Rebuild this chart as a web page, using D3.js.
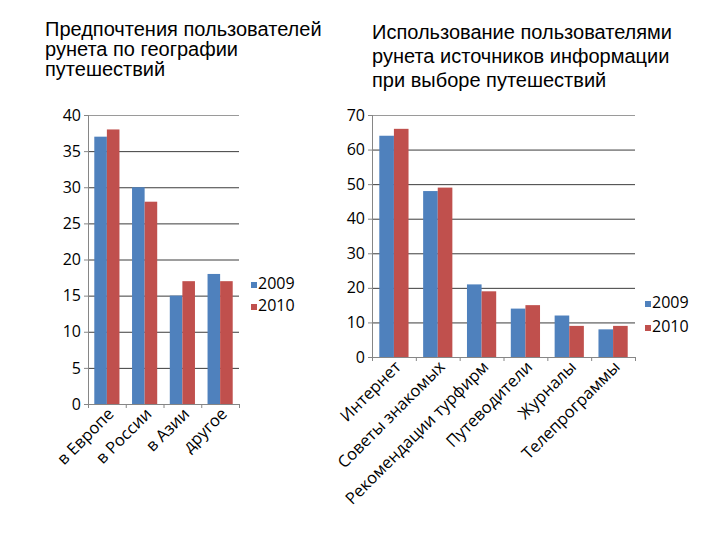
<!DOCTYPE html>
<html>
<head>
<meta charset="utf-8">
<script src="https://cdn.jsdelivr.net/npm/d3@7"></script>
<style>
  body { margin: 0; background: #fff; }
  svg { display: block; }
</style>
</head>
<body>
<svg width="720" height="540"></svg>
<script>
// --- data ---
var seriesNames = ["2009", "2010"];

var geoTitle = ["Предпочтения пользователей", "рунета по географии", "путешествий"];
var geoCategories = ["в Европе", "в России", "в Азии", "другое"];
var geo2009 = [37, 30, 15, 18];
var geo2010 = [38, 28, 17, 17];
var geoTicks = [0, 5, 10, 15, 20, 25, 30, 35, 40];

var srcTitle = ["Использование пользователями", "рунета источников информации", "при выборе путешествий"];
var srcCategories = ["Интернет", "Советы знакомых", "Рекомендации турфирм", "Путеводители", "Журналы", "Телепрограммы"];
var src2009 = [64, 48, 21, 14, 12, 8];
var src2010 = [66, 49, 19, 15, 9, 9];
var srcTicks = [0, 10, 20, 30, 40, 50, 60, 70];

var colors = ["#4f81bd", "#c0504d"];
var labelFont = "'Open Sans', sans-serif";

var svg = d3.select("svg");

function drawTitle(lines, x, y, lineGap)
{
    var t = svg.append("text")
        .attr("x", x)
        .attr("y", y)
        .style("font-family", "'Liberation Sans', Arial, sans-serif")
        .style("font-size", "20px")
        .style("fill", "#000");
    lines.forEach(function (l, i) {
        t.append("tspan").attr("x", x).attr("dy", i == 0 ? 0 : lineGap).text(l);
    });
}

function drawChart(opt)
{
    var width = opt.right - opt.left;
    var height = opt.bottom - opt.top;

    var chart = svg.append("g")
        .attr("transform", `translate(${opt.left}, ${opt.top})`);

    var xScale = d3.scaleBand()
        .domain(opt.categories)
        .range([0, width])
        .padding(0);
    // two bars per category, gap of one bar width
    var sScale = d3.scaleBand()
        .domain(seriesNames)
        .range([0, xScale.bandwidth()])
        .paddingInner(0)
        .paddingOuter(0.5);
    var yScale = d3.scaleLinear()
        .domain([0, d3.max(opt.ticks)])
        .range([height, 0]);

    // gridlines
    chart.append("g")
        .selectAll("line")
        .data(opt.ticks.filter(function (t) { return t > 0; }))
        .enter()
        .append("line")
        .attr("x1", 0)
        .attr("x2", width)
        .attr("y1", (d) => yScale(d) + 0.5)
        .attr("y2", (d) => yScale(d) + 0.5)
        .style("stroke", (d) => d == d3.max(opt.ticks) ? "#9a9a9a" : "#3c3c3c")
        .style("stroke-width", 1);

    // bars
    var rows = opt.categories.map(function (c, i) {
        return { cat: c, values: [opt.s1[i], opt.s2[i]] };
    });
    var groups = chart.selectAll(".grp")
        .data(rows)
        .enter()
        .append("g")
        .attr("transform", (d) => `translate(${xScale(d.cat)}, 0)`);
    groups.selectAll("rect")
        .data(function (d) { return d.values.map(function (v, j) { return { name: seriesNames[j], v: v, j: j }; }); })
        .enter()
        .append("rect")
        .attr("x", (d) => sScale(d.name))
        .attr("y", (d) => yScale(d.v))
        .attr("width", sScale.bandwidth())
        .attr("height", (d) => height - yScale(d.v))
        .style("fill", (d) => colors[d.j]);

    // y axis
    var y_axis = d3.axisLeft(yScale)
        .tickValues(opt.ticks)
        .tickSize(4)
        .tickPadding(3)
        .tickFormat(d3.format("d"));
    var ya = chart.append("g").call(y_axis);
    ya.select(".domain").attr("d", `M0.5,0V${height}`).style("stroke", "#868686");
    ya.selectAll(".tick line").style("stroke", "#868686");
    ya.selectAll("text")
        .style("font-family", labelFont)
        .style("font-size", "16px")
        .style("fill", "#000");

    // x axis
    var x_axis = d3.axisBottom(xScale).tickSize(0).tickFormat("");
    var xa = chart.append("g")
        .attr("transform", `translate(0, ${height})`)
        .call(x_axis);
    xa.select(".domain").style("stroke", "#868686");
    // boundary ticks
    var edges = opt.categories.map((c) => xScale(c)).concat([width]);
    xa.selectAll(".edge")
        .data(edges)
        .enter()
        .append("line")
        .attr("x1", (d) => d + 0.5)
        .attr("x2", (d) => d + 0.5)
        .attr("y1", 0)
        .attr("y2", 4)
        .style("stroke", "#868686");

    xa.selectAll(".lbl")
        .data(opt.categories)
        .enter()
        .append("text")
        .attr("transform", (d) => `translate(${xScale(d) + xScale.bandwidth() / 2 + 8}, 11) rotate(-45)`)
        .attr("text-anchor", "end")
        .style("font-family", labelFont)
        .style("font-size", "16.5px")
        .style("fill", "#000")
        .text((d) => d);

    // legend
    var lg = svg.append("g")
        .attr("transform", `translate(${opt.legendX}, ${opt.legendY})`);
    seriesNames.forEach(function (n, i) {
        lg.append("rect")
            .attr("x", 0)
            .attr("y", i * opt.legendGap - 7)
            .attr("width", 6)
            .attr("height", 6)
            .style("fill", colors[i]);
        lg.append("text")
            .attr("x", 7)
            .attr("y", i * opt.legendGap)
            .style("font-family", labelFont)
            .style("font-size", "16px")
            .style("fill", "#000")
            .text(n);
    });
}

drawTitle(geoTitle, 45, 36, 20);
drawTitle(srcTitle, 372, 39, 24);

drawChart({
    left: 88, right: 239, top: 115, bottom: 404,
    categories: geoCategories, s1: geo2009, s2: geo2010, ticks: geoTicks,
    legendX: 251, legendY: 289, legendGap: 22
});

drawChart({
    left: 372, right: 635, top: 115, bottom: 357,
    categories: srcCategories, s1: src2009, s2: src2010, ticks: srcTicks,
    legendX: 645, legendY: 308, legendGap: 24
});
</script>
</body>
</html>
